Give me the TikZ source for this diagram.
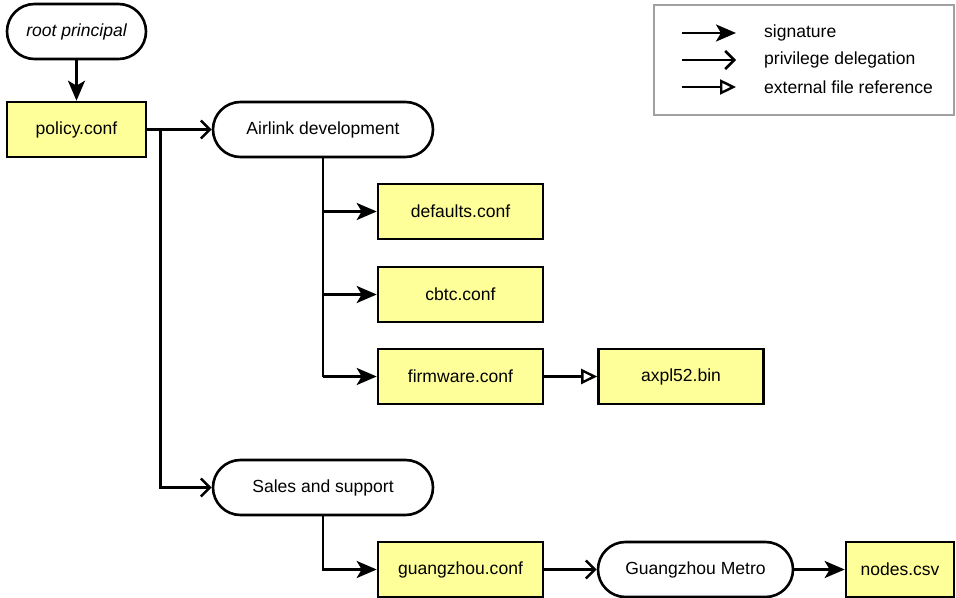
\documentclass[tikz,border=0pt]{standalone}
\usepackage{fontspec}
\setmainfont{Liberation Sans}
\usetikzlibrary{arrows.meta,calc}
\definecolor{fileyellow}{RGB}{255,255,153}
\definecolor{legendgray}{RGB}{160,160,160}
\tikzset{
  every node/.style={font=\fontsize{17.6}{21}\selectfont},
  filebox/.style={draw, line width=2.6bp, fill=fileyellow, minimum width=165bp, minimum height=55bp, inner sep=0pt},
  pill/.style={draw, line width=2.6bp, fill=white, rounded corners=27.5bp, minimum height=55bp, inner sep=0pt},
  conn/.style={line width=2.8bp},
  sig/.style={conn, -{Stealth[length=20bp,width=17bp,inset=5bp]}},
  deleg/.style={conn, -{Straight Barb[length=9bp,width=18bp,line width=2.6bp]}},
  extref/.style={conn, -{Triangle[open,length=16bp,width=15bp,line width=2.4bp]}},
}
\begin{document}
\begin{tikzpicture}[x=1bp,y=-1bp]
\useasboundingbox (0,0) rectangle (956,598);

% principals
\node[pill, minimum width=139bp] (root) at (76.5,31.5) {\itshape root principal};
\node[pill, minimum width=220bp] (air) at (323,129.5) {Airlink development};
\node[pill, minimum width=220bp] (sales) at (323,487.5) {Sales and support};
\node[pill, minimum width=195bp] (metro) at (695.5,569.5) {Guangzhou Metro};

% files
\node[filebox, minimum width=139bp] (pol) at (76.5,129.5) {policy.conf};
\node[filebox] (def) at (460.5,211.5) {defaults.conf};
\node[filebox] (cbtc) at (460.5,294.5) {cbtc.conf};
\node[filebox] (firm) at (460.5,376.5) {firmware.conf};
\node[filebox] (bin) at (681,376.5) {axpl52.bin};
\node[filebox] (gz) at (460.5,569.5) {guangzhou.conf};
\node[filebox, minimum width=108bp] (csv) at (900,569.5) {nodes.csv};

% connectors
\draw[sig] (root) -- (pol);
\coordinate (pj) at ($(pol.east)+(13,0)$);
\draw[deleg] (pol.east) -- (air.west);
\draw[deleg] (pj) -- (pj |- sales.west) -- (sales.west);
\draw[conn] (air.south) -- (air.south |- firm.west);
\draw[sig] (air.south |- def.west) -- (def.west);
\draw[sig] (air.south |- cbtc.west) -- (cbtc.west);
\draw[sig] (air.south |- firm.west) -- (firm.west);
\draw[extref] (firm) -- (bin);
\draw[sig] (sales.south) -- (sales.south |- gz.west) -- (gz.west);
\draw[deleg] (gz) -- (metro);
\draw[sig] (metro) -- (csv);

% legend
\node[draw=legendgray, line width=1.2bp, minimum width=300bp, minimum height=110bp, inner sep=0pt] (leg) at (804,60) {};
\coordinate (la1) at (682,33);
\coordinate (lb1) at (736,33);
\coordinate (la2) at (682,60);
\coordinate (lb2) at (736,60);
\coordinate (la3) at (682,87);
\coordinate (lb3) at (736,87);
\draw[sig] (la1) -- (lb1);
\draw[deleg] (la2) -- (lb2);
\draw[extref] (la3) -- (lb3);
\node[anchor=west, inner sep=0pt] (lt1) at (764,33) {signature};
\node[anchor=west, inner sep=0pt] (lt2) at (764,60) {privilege delegation};
\node[anchor=west, inner sep=0pt] (lt3) at (764,87) {external file reference};
\end{tikzpicture}
\end{document}
